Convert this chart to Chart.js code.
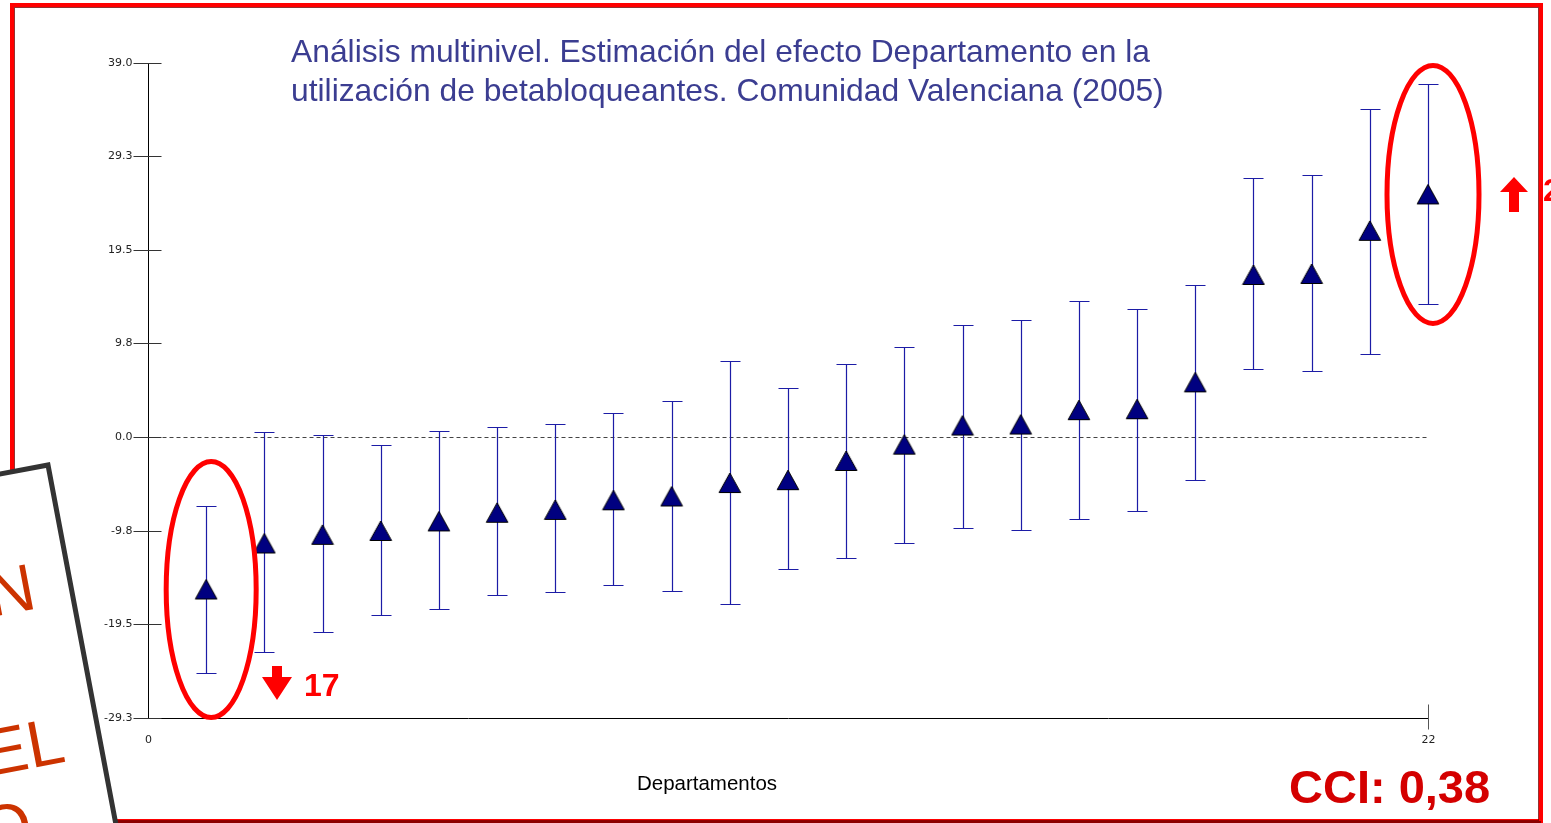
<!DOCTYPE html>
<html lang="es">
<head>
<meta charset="utf-8">
<title>Efecto Departamento - betabloqueantes</title>
<script src="https://cdn.jsdelivr.net/npm/chart.js@4.4.1/dist/chart.umd.min.js"></script>
<style>
  html, body { margin: 0; padding: 0; background: #fff; overflow: hidden; }
  #wrap { position: relative; width: 1551px; height: 823px; }
</style>
</head>
<body>
<div id="wrap"><canvas id="grafico"></canvas></div>
<script>
// valores (estimacion y limites del intervalo)
const departamentos = [1, 2, 3, 4, 5, 6, 7, 8, 9, 10, 11, 12, 13, 14, 15, 16, 17, 18, 19, 20, 21, 22];
const estimacion = [-15.9, -11.1, -10.2, -9.8, -8.8, -7.9, -7.6, -6.6, -6.2, -4.8, -4.5, -2.5, -0.8, 1.2, 1.3, 2.8, 2.9, 5.7, 16.9, 17.0, 21.5, 25.3];
const limiteSuperior = [-7.2, 0.5, 0.2, -0.8, 0.6, 1.0, 1.4, 2.5, 3.8, 7.9, 5.1, 7.6, 9.4, 11.7, 12.2, 14.2, 13.3, 15.9, 27.0, 27.3, 34.2, 36.8];
const limiteInferior = [-24.6, -22.4, -20.3, -18.6, -17.9, -16.5, -16.2, -15.4, -16.1, -17.4, -13.8, -12.6, -11.0, -9.5, -9.7, -8.6, -7.7, -4.5, 7.1, 6.9, 8.7, 13.9];
const ticksY = [-29.3, -19.5, -9.8, 0.0, 9.8, 19.5, 29.3, 39.0];
const ticksX = [0, 22];

const titulo = [
  'Análisis multinivel. Estimación del efecto Departamento en la',
  'utilización de betabloqueantes. Comunidad Valenciana (2005)'
];
const tituloEjeX = 'Departamentos';
const textoCCI = 'CCI: 0,38';
const etiquetaMin = '17';
const etiquetaMax = '25';
const textoRecuadro = ['VARIACIÓN', 'A NIVEL', 'DEPARTAMENTO'];

const AZUL = '#000080';
const ROJO = '#ff0000';

// triangulo relleno como estilo de punto
function crearTriangulo() {
  const c = document.createElement('canvas');
  c.width = 24;
  c.height = 22;
  const g = c.getContext('2d');
  g.beginPath();
  g.moveTo(12, 1);
  g.lineTo(22.8, 20.5);
  g.lineTo(1.2, 20.5);
  g.closePath();
  g.fillStyle = AZUL;
  g.fill();
  g.strokeStyle = '#000';
  g.lineWidth = 1;
  g.stroke();
  return c;
}

const ejes = {
  id: 'ejes',
  beforeDatasetsDraw(chart) {
    const { ctx, scales: { x, y } } = chart;
    const x0 = Math.round(x.getPixelForValue(ticksX[0])) + 0.5;
    const xFin = Math.round(x.getPixelForValue(ticksX[ticksX.length - 1])) + 0.5;
    const yBase = Math.round(y.getPixelForValue(ticksY[0])) + 0.5;
    const yTope = Math.round(y.getPixelForValue(ticksY[ticksY.length - 1])) + 0.5;
    ctx.save();

    // linea punteada en cero
    const yCero = Math.round(y.getPixelForValue(0)) + 0.5;
    ctx.strokeStyle = '#444';
    ctx.lineWidth = 1;
    ctx.setLineDash([4, 3]);
    ctx.beginPath();
    ctx.moveTo(x0, yCero);
    ctx.lineTo(xFin, yCero);
    ctx.stroke();
    ctx.setLineDash([]);

    // ejes
    ctx.strokeStyle = '#000';
    ctx.beginPath();
    ctx.moveTo(x0, yTope);
    ctx.lineTo(x0, yBase);
    ctx.lineTo(xFin, yBase);
    ctx.stroke();

    // marcas del eje y
    ctx.strokeStyle = '#333';
    ctx.fillStyle = '#222';
    ctx.font = '11px "DejaVu Sans"';
    ctx.textAlign = 'right';
    ctx.textBaseline = 'middle';
    ticksY.forEach(v => {
      const py = Math.round(y.getPixelForValue(v)) + 0.5;
      ctx.beginPath();
      ctx.moveTo(x0 - 15, py);
      ctx.lineTo(x0 + 13, py);
      ctx.stroke();
      ctx.fillText(v.toFixed(1), x0 - 16, py);
    });

    // marcas del eje x
    ctx.textAlign = 'center';
    ticksX.forEach((v, i) => {
      const px = Math.round(x.getPixelForValue(v)) + 0.5;
      if (i > 0) {
        ctx.strokeStyle = '#555';
        ctx.beginPath();
        ctx.moveTo(px, yBase - 14);
        ctx.lineTo(px, yBase + 11);
        ctx.stroke();
      }
      ctx.fillText(String(v), px, yBase + 22);
    });

    ctx.fillStyle = '#000';
    ctx.font = '20.5px "Liberation Sans"';
    ctx.fillText(tituloEjeX, 707, 784);

    // intervalos de confianza
    ctx.strokeStyle = '#1c1ca6';
    ctx.lineWidth = 1.2;
    departamentos.forEach((d, i) => {
      const px = Math.round(x.getPixelForValue(d)) + 0.5;
      const ps = Math.round(y.getPixelForValue(limiteSuperior[i])) + 0.5;
      const pi = Math.round(y.getPixelForValue(limiteInferior[i])) + 0.5;
      ctx.beginPath();
      ctx.moveTo(px, ps);
      ctx.lineTo(px, pi);
      ctx.moveTo(px - 10, ps);
      ctx.lineTo(px + 10, ps);
      ctx.moveTo(px - 10, pi);
      ctx.lineTo(px + 10, pi);
      ctx.stroke();
    });
    ctx.restore();
  }
};

function flechaAbajo(ctx, cx, top) {
  ctx.beginPath();
  ctx.moveTo(cx - 5, top);
  ctx.lineTo(cx + 5, top);
  ctx.lineTo(cx + 5, top + 11);
  ctx.lineTo(cx + 15, top + 11);
  ctx.lineTo(cx, top + 34);
  ctx.lineTo(cx - 15, top + 11);
  ctx.lineTo(cx - 5, top + 11);
  ctx.closePath();
  ctx.fill();
}

function flechaArriba(ctx, cx, bottom) {
  ctx.beginPath();
  ctx.moveTo(cx - 5, bottom);
  ctx.lineTo(cx + 5, bottom);
  ctx.lineTo(cx + 5, bottom - 20);
  ctx.lineTo(cx + 14, bottom - 20);
  ctx.lineTo(cx, bottom - 35);
  ctx.lineTo(cx - 14, bottom - 20);
  ctx.lineTo(cx - 5, bottom - 20);
  ctx.closePath();
  ctx.fill();
}

const anotaciones = {
  id: 'anotaciones',
  afterDraw(chart) {
    const { ctx, scales: { x, y } } = chart;
    ctx.save();

    // titulo
    ctx.fillStyle = '#3b3d91';
    ctx.font = '31.8px "Liberation Sans"';
    ctx.textAlign = 'left';
    ctx.textBaseline = 'alphabetic';
    ctx.fillText(titulo[0], 291, 62);
    ctx.fillText(titulo[1], 291, 101);

    // elipses sobre el minimo y el maximo
    const iMin = 0;
    const iMax = departamentos.length - 1;
    ctx.strokeStyle = ROJO;
    ctx.lineWidth = 5;
    [[iMin, 45, 128], [iMax, 46, 129]].forEach(([i, rx, ry]) => {
      const px = x.getPixelForValue(departamentos[i]) + 5;
      const py = y.getPixelForValue(estimacion[i]);
      ctx.beginPath();
      ctx.ellipse(px, py, rx, ry, 0, 0, Math.PI * 2);
      ctx.stroke();
    });

    // flechas y etiquetas
    ctx.fillStyle = ROJO;
    flechaAbajo(ctx, 277, 666);
    flechaArriba(ctx, 1514, 212);
    ctx.font = 'bold 32px "Liberation Sans"';
    ctx.fillText(etiquetaMin, 304, 696);
    ctx.fillText(etiquetaMax, 1543, 201);

    ctx.fillStyle = '#d40000';
    ctx.font = 'bold 47px "Liberation Sans"';
    ctx.fillText(textoCCI, 1289, 803);

    // marco rojo
    ctx.strokeStyle = ROJO;
    ctx.lineWidth = 4;
    ctx.strokeRect(12, 5, 1529, 816);
    ctx.strokeStyle = 'rgba(120,0,0,0.8)';
    ctx.lineWidth = 1;
    ctx.strokeRect(14.5, 7.5, 1524, 813);
    ctx.strokeStyle = '#8b0000';
    ctx.lineWidth = 2;
    ctx.beginPath();
    ctx.moveTo(12, 822);
    ctx.lineTo(1541, 822);
    ctx.stroke();

    // recuadro girado a la izquierda
    ctx.translate(48, 465);
    ctx.rotate(-10.7 * Math.PI / 180);
    ctx.fillStyle = '#fff';
    ctx.fillRect(-600, 0, 600, 900);
    ctx.strokeStyle = '#333';
    ctx.lineWidth = 5;
    ctx.strokeRect(-600, 0, 600, 900);
    ctx.fillStyle = '#cc3300';
    ctx.font = '66px "Liberation Sans"';
    ctx.textAlign = 'right';
    ctx.fillText(textoRecuadro[0], -36, 139);
    ctx.fillText(textoRecuadro[1], -36, 295);
    ctx.fillText(textoRecuadro[2], -83, 371);
    ctx.restore();
  }
};

const ctx = document.getElementById('grafico').getContext('2d');
new Chart(ctx, {
  type: 'scatter',
  data: {
    datasets: [{
      label: 'Departamento',
      data: departamentos.map((d, i) => ({ x: d, y: estimacion[i] })),
      pointStyle: crearTriangulo(),
      pointRadius: 11,
      pointHoverRadius: 11,
      clip: false
    }]
  },
  options: {
    responsive: true,
    maintainAspectRatio: false,
    animation: false,
    layout: { padding: { left: 148, right: 123, top: 63, bottom: 105 } },
    scales: {
      x: { type: 'linear', min: 0, max: 22, display: false },
      y: { type: 'linear', min: -29.3, max: 39.0, display: false }
    },
    plugins: {
      legend: { display: false },
      tooltip: { enabled: false }
    }
  },
  plugins: [ejes, anotaciones]
});
</script>
</body>
</html>
